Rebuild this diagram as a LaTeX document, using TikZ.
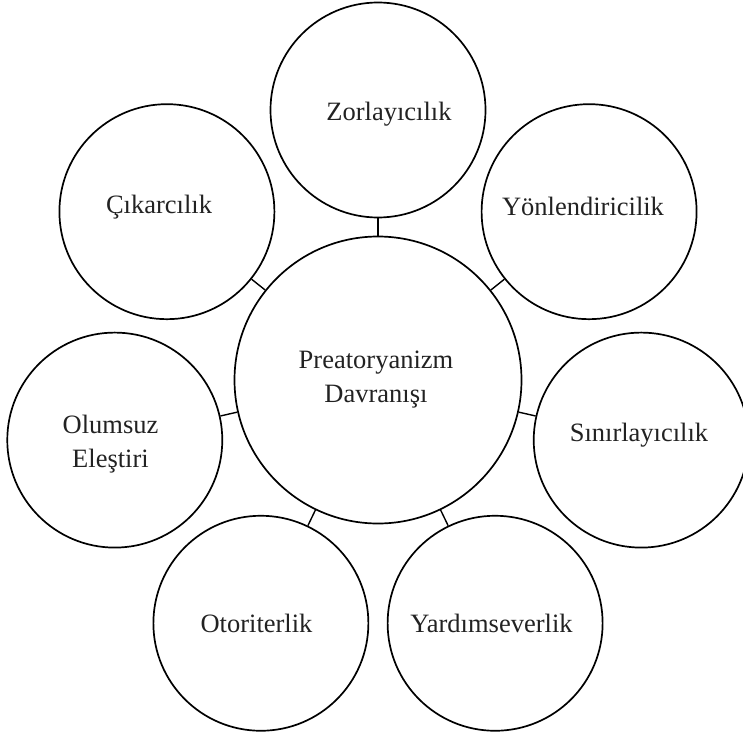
\documentclass[tikz,border=0pt]{standalone}
\usepackage{fontspec}
\setmainfont{Liberation Serif}
\usetikzlibrary{calc}
\definecolor{txtcol}{RGB}{34,34,34}
\begin{document}
\begin{tikzpicture}[x=1pt,y=-1pt,
  bubble/.style={circle,draw=black,line width=1.7pt,minimum size=215pt,inner sep=0pt},
  hub/.style={circle,draw=black,line width=1.7pt,minimum size=287pt,inner sep=0pt},
  link/.style={draw=black,line width=1.4pt},
  lbl/.style={text=txtcol,font=\fontsize{26.5pt}{34.4pt}\selectfont,inner sep=0pt,anchor=base},
  lbl2/.style={text=txtcol,font=\fontsize{26.5pt}{34.4pt}\selectfont,inner sep=0pt,align=center,anchor=center}]
\useasboundingbox (0,0) rectangle (743,733);
\coordinate (c) at (378,380);
\node[hub] (hub) at (c) {};
\node[bubble] (zor) at ($(c)+(-90:270)$) {};
\node[bubble] (cik) at ($(c)+(218.57:270)$) {};
\node[bubble] (yon) at ($(c)+(-38.57:270)$) {};
\node[bubble] (olu) at ($(c)+(167.14:270)$) {};
\node[bubble] (sin) at ($(c)+(12.86:270)$) {};
\node[bubble] (oto) at ($(c)+(115.71:270)$) {};
\node[bubble] (yar) at ($(c)+(64.29:270)$) {};
\foreach \n in {zor,cik,yon,olu,sin,oto,yar} {\draw[link] (hub) -- (\n);}
\node[lbl] (tzor) at (389,121) {Zorlayıcılık};
\node[lbl] (tcik) at (159,213) {Çıkarcılık};
\node[lbl] (tyon) at (583,215.7) {Yönlendiricilik};
\node[lbl] (tsin) at (639,441.7) {Sınırlayıcılık};
\node[lbl] (toto) at (256.5,632) {Otoriterlik};
\node[lbl] (tyar) at (491.5,632) {Yardımseverlik};
\node[lbl2] (tolu) at (110.5,444) {Olumsuz\\Eleştiri};
\node[lbl2] (thub) at (376,379.6) {Preatoryanizm\\Davranışı};
\end{tikzpicture}
\end{document}
